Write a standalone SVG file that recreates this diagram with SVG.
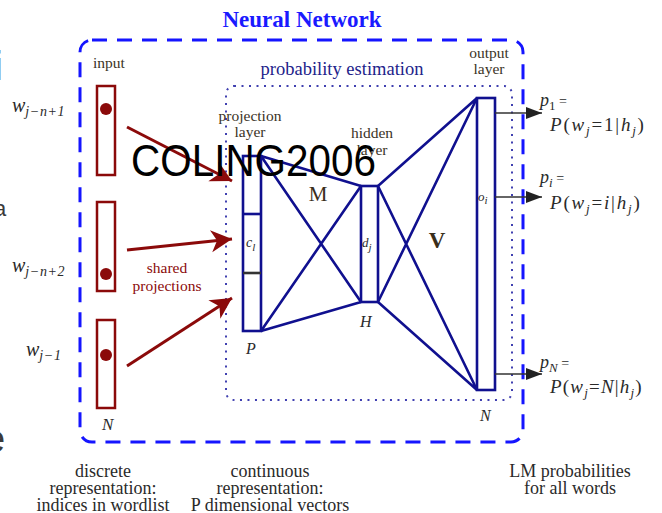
<svg xmlns="http://www.w3.org/2000/svg" width="662" height="513" viewBox="0 0 662 513">
<style>
.serif{font-family:"Liberation Serif","DejaVu Serif",serif}
.lbl{font-family:"Liberation Serif","DejaVu Serif",serif;font-size:15.5px;fill:#3a3326;text-anchor:middle}
.math{font-family:"Liberation Serif","DejaVu Serif",serif;font-style:italic;fill:#2a2a2a}
.bot{font-family:"Liberation Serif","DejaVu Serif",serif;font-size:18px;fill:#2a2a2a;text-anchor:middle}
.net{stroke:#10108f;stroke-width:2.6;fill:none;stroke-linejoin:round}
.inrect{fill:#ffffff;stroke:#8b0a0a;stroke-width:2.5}
.red{stroke:#8b0a0a;stroke-width:3;fill:none}
.out{stroke:#333333;stroke-width:1.6;fill:none}
.frag{font-family:"Liberation Sans",sans-serif;fill:#3a3a3a}
</style>
<defs>
<marker id="ra" viewBox="-22 -12 24 24" refX="0" refY="0" markerWidth="24" markerHeight="24" markerUnits="userSpaceOnUse" orient="auto">
<path d="M0,0 L-21,-11 L-15,0 L-21,11 Z" fill="#8b0a0a"/>
</marker>
<marker id="ba" viewBox="-17 -7 18 14" refX="0" refY="0" markerWidth="18" markerHeight="14" markerUnits="userSpaceOnUse" orient="auto">
<path d="M0,0 L-16,-6 L-16,6 Z" fill="#222222"/>
</marker>
</defs>
<rect width="662" height="513" fill="#ffffff"/>

<!-- slide edge fragments -->
<text x="-6" y="80" class="frag" font-size="40">i</text>
<text x="-6" y="216" class="frag" font-size="22">a</text>
<text x="-16" y="452" class="frag" font-size="38">e</text>

<!-- title and containers -->
<text x="302" y="27" class="serif" font-size="23" font-weight="bold" fill="#1a1aff" text-anchor="middle">Neural Network</text>
<g id="outer-box">
<rect x="80" y="40" width="443" height="402" rx="12" fill="none" stroke="#1515ff" stroke-width="3" stroke-dasharray="15 10"/>
</g>
<g id="prob-box">
<rect x="226" y="86" width="286" height="314" rx="8" fill="none" stroke="#4040b0" stroke-width="2" stroke-dasharray="2 5.5"/>
<text x="342" y="75" class="serif" font-size="18.5" fill="#22228a" text-anchor="middle">probability estimation</text>
</g>

<!-- input layer -->
<g id="input">
<text x="109" y="68" class="lbl">input</text>
<rect x="97" y="86" width="18" height="89" class="inrect"/>
<circle cx="106" cy="109" r="6" fill="#8b0a0a"/>
<rect x="97" y="202" width="18" height="89" class="inrect"/>
<circle cx="106" cy="274" r="6" fill="#8b0a0a"/>
<rect x="97" y="320" width="18" height="88" class="inrect"/>
<circle cx="106" cy="355" r="6" fill="#8b0a0a"/>
<text x="102" y="430" class="math" font-size="17">N</text>
<text x="12" y="112" class="math" font-size="20">w<tspan font-size="14" dy="4" letter-spacing="0.6">j−n+1</tspan></text>
<text x="12" y="272" class="math" font-size="20">w<tspan font-size="14" dy="4" letter-spacing="0.6">j−n+2</tspan></text>
<text x="26" y="356" class="math" font-size="20">w<tspan font-size="14" dy="4" letter-spacing="0.6">j−1</tspan></text>
</g>

<g id="shared-label">
<text x="167" y="273" class="serif" font-size="15.5" fill="#8b0a0a" text-anchor="middle">shared</text>
<text x="167" y="291" class="serif" font-size="15.5" fill="#8b0a0a" text-anchor="middle">projections</text>
</g>

<!-- projection layer -->
<g id="projection">
<text x="250" y="121" class="lbl">projection</text>
<text x="250" y="137" class="lbl">layer</text>
<rect x="243" y="156" width="18" height="175" fill="#ffffff" stroke="#10108f" stroke-width="2.6"/>
<line x1="243" y1="214" x2="261" y2="214" stroke="#10108f" stroke-width="2.6"/>
<line x1="243" y1="273" x2="261" y2="273" stroke="#333333" stroke-width="2.6"/>
<text x="246" y="247" class="math" font-size="14">c<tspan font-size="11" dy="4">l</tspan></text>
<text x="246" y="354" class="math" font-size="16">P</text>
</g>

<!-- hidden layer -->
<g id="hidden">
<text x="372" y="138" class="lbl">hidden</text>
<text x="372" y="155" class="lbl">layer</text>
<rect x="361" y="186" width="17" height="116" fill="#ffffff" stroke="#10108f" stroke-width="2.6"/>
<text x="362" y="247" class="math" font-size="13" fill="#4a3a20">d<tspan font-size="11" dy="4">j</tspan></text>
<text x="360" y="327" class="math" font-size="16">H</text>
</g>

<!-- output layer -->
<g id="output">
<text x="489" y="58" class="lbl">output</text>
<text x="489" y="74" class="lbl">layer</text>
<rect x="477" y="98" width="18" height="292" fill="#ffffff" stroke="#10108f" stroke-width="2.6"/>
<text x="478" y="201" class="math" font-size="13" fill="#4a3a20">o<tspan font-size="11" dy="3">i</tspan></text>
<text x="480" y="421" class="math" font-size="16">N</text>
</g>

<!-- connectors -->
<g id="connectors">
<line x1="127" y1="127" x2="232" y2="181" class="red" marker-end="url(#ra)"/>
<line x1="127" y1="250" x2="232" y2="239" class="red" marker-end="url(#ra)"/>
<line x1="127" y1="366" x2="232" y2="298" class="red" marker-end="url(#ra)"/>
<path class="net" d="M261,156 L361,186 M261,156 L361,302 M261,331 L361,186 M261,331 L361,302"/>
<path class="net" d="M378,186 L477,98 M378,186 L477,390 M378,302 L477,98 M378,302 L477,390"/>
<line x1="495" y1="113" x2="542" y2="113" class="out" marker-end="url(#ba)"/>
<line x1="495" y1="197" x2="542" y2="197" class="out" marker-end="url(#ba)"/>
<line x1="495" y1="374" x2="542" y2="374" class="out" marker-end="url(#ba)"/>
</g>

<g id="weights">
<text x="318" y="201" class="serif" font-size="21" fill="#3a2e1a" text-anchor="middle">M</text>
<text x="437" y="248" class="serif" font-size="23" font-weight="bold" fill="#3a2e1a" text-anchor="middle">V</text>
</g>

<!-- output probabilities -->
<g id="probs">
<text x="540" y="106" class="math" font-size="18">p<tspan font-size="13" dy="4" font-style="normal">1</tspan><tspan font-size="14" dy="-4" font-style="normal"> =</tspan></text>
<text x="550" y="131" class="math" font-size="19" letter-spacing="1.8">P<tspan font-style="normal">(</tspan>w<tspan font-size="13" dy="4">j</tspan><tspan dy="-4" font-style="normal">=1|</tspan>h<tspan font-size="13" dy="4">j</tspan><tspan dy="-4" font-style="normal">)</tspan></text>
<text x="540" y="183" class="math" font-size="18">p<tspan font-size="13" dy="4">i</tspan><tspan font-size="14" dy="-4" font-style="normal"> =</tspan></text>
<text x="550" y="209" class="math" font-size="19" letter-spacing="1.8">P<tspan font-style="normal">(</tspan>w<tspan font-size="13" dy="4">j</tspan><tspan dy="-4" font-style="normal">=</tspan>i<tspan font-style="normal">|</tspan>h<tspan font-size="13" dy="4">j</tspan><tspan dy="-4" font-style="normal">)</tspan></text>
<text x="540" y="368" class="math" font-size="18">p<tspan font-size="13" dy="4">N</tspan><tspan font-size="14" dy="-4" font-style="normal"> =</tspan></text>
<text x="550" y="393" class="math" font-size="19" letter-spacing="1.2">P<tspan font-style="normal">(</tspan>w<tspan font-size="13" dy="4">j</tspan><tspan dy="-4" font-style="normal">=</tspan>N<tspan font-style="normal">|</tspan>h<tspan font-size="13" dy="4">j</tspan><tspan dy="-4" font-style="normal">)</tspan></text>
</g>

<!-- bottom captions -->
<g id="captions">
<text x="103" y="477" class="bot">discrete</text>
<text x="103" y="494" class="bot">representation:</text>
<text x="103" y="511" class="bot">indices in wordlist</text>
<text x="270" y="477" class="bot">continuous</text>
<text x="270" y="494" class="bot">representation:</text>
<text x="270" y="511" class="bot">P dimensional vectors</text>
<text x="570" y="477" class="bot">LM probabilities</text>
<text x="570" y="494" class="bot">for all words</text>
</g>

<!-- watermark -->
<text x="131" y="176" font-family="Liberation Sans,Arial,sans-serif" font-size="45" fill="#000000" textLength="245" lengthAdjust="spacingAndGlyphs">COLING2006</text>
</svg>
